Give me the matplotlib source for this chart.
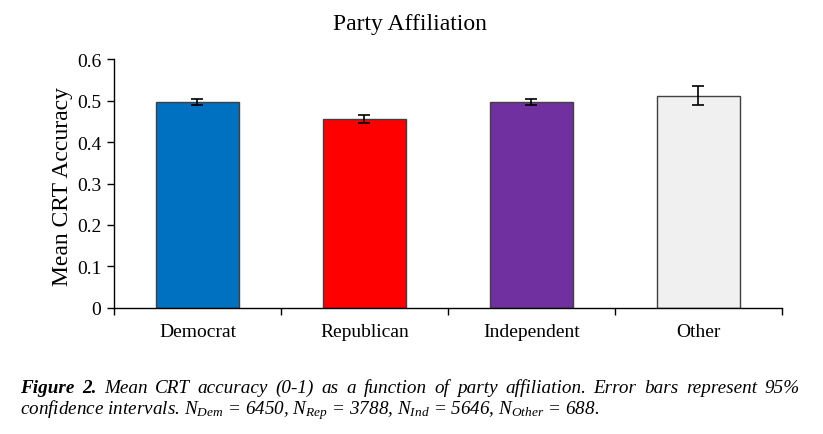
import matplotlib
matplotlib.use("Agg")
import matplotlib.pyplot as plt
from matplotlib.ticker import FixedLocator

parties = ["Democrat", "Republican", "Independent", "Other"]
means = [0.497, 0.455, 0.497, 0.512]
ci95 = [0.007, 0.009, 0.007, 0.022]
colors = ["#0070C0", "#FF0000", "#7030A0", "#F0F0F0"]
yticks = [0, 0.1, 0.2, 0.3, 0.4, 0.5, 0.6]
ytick_labels = ["0", "0.1", "0.2", "0.3", "0.4", "0.5", "0.6"]

plt.rcParams['font.family'] = ['Liberation Serif', 'DejaVu Serif']
plt.rcParams['mathtext.fontset'] = 'custom'
plt.rcParams['mathtext.rm'] = 'Liberation Serif'
plt.rcParams['mathtext.it'] = 'Liberation Serif:italic'

fig = plt.figure(figsize=(8.23, 4.35), dpi=100)
ax = fig.add_axes([0.1385, 0.2897, 0.8115, 0.5723])

x = list(range(len(parties)))
ax.bar(x, means, width=0.5, color=colors, edgecolor='#404040', linewidth=1.0,
       yerr=ci95, capsize=4, error_kw=dict(ecolor='black', elinewidth=1.2, capthick=1.2))

ax.set_xlim(-0.5, len(parties) - 0.5)
ax.set_ylim(0, 0.6)
ax.set_yticks(yticks)
ax.set_yticklabels(ytick_labels, fontsize=14)
ax.set_xticks(x)
ax.set_xticklabels(parties, fontsize=14)
ax.tick_params(axis='x', which='major', length=0, pad=11)
ax.xaxis.set_minor_locator(FixedLocator([i - 0.5 for i in range(len(parties) + 1)]))
ax.tick_params(axis='x', which='minor', length=5, width=1, direction='out')
ax.tick_params(axis='y', length=5, width=1, direction='out', pad=4)
ax.spines['top'].set_visible(False)
ax.spines['right'].set_visible(False)
for s in ['left', 'bottom']:
    ax.spines[s].set_linewidth(1.0)
    ax.spines[s].set_color('black')

ax.set_ylabel("Mean CRT Accuracy", fontsize=17, labelpad=3, y=0.49)
fig.text(0.4986, 0.943, "Party Affiliation", ha='center', va='center', fontsize=17)

# caption, first line justified between left and right margins
fs = 13.8
left, right = 20, 800
y1, y2 = 0.108, 0.058
pieces = [("Figure", 'bold'), ("2.", 'bold')] + \
    [(w, 'normal') for w in "Mean CRT accuracy (0-1) as a function of party affiliation. Error bars represent 95%".split()]
fig.canvas.draw()
r = fig.canvas.get_renderer()
texts = [fig.text(0, y1, w, fontsize=fs, style='italic', weight=wt, va='center') for w, wt in pieces]
widths = [t.get_window_extent(renderer=r).width for t in texts]
gap = (right - left - sum(widths)) / (len(texts) - 1)
pos = left
for t, w in zip(texts, widths):
    t.set_x(pos / fig.bbox.width)
    pos += w + gap

fig.text(left / fig.bbox.width, y2,
         r"confidence intervals. $N_{\mathit{Dem}}$ = 6450, $N_{\mathit{Rep}}$ = 3788, "
         r"$N_{\mathit{Ind}}$ = 5646, $N_{\mathit{Other}}$ = 688.",
         fontsize=fs, style='italic', va='center')

fig.savefig("out.png", dpi=100)
